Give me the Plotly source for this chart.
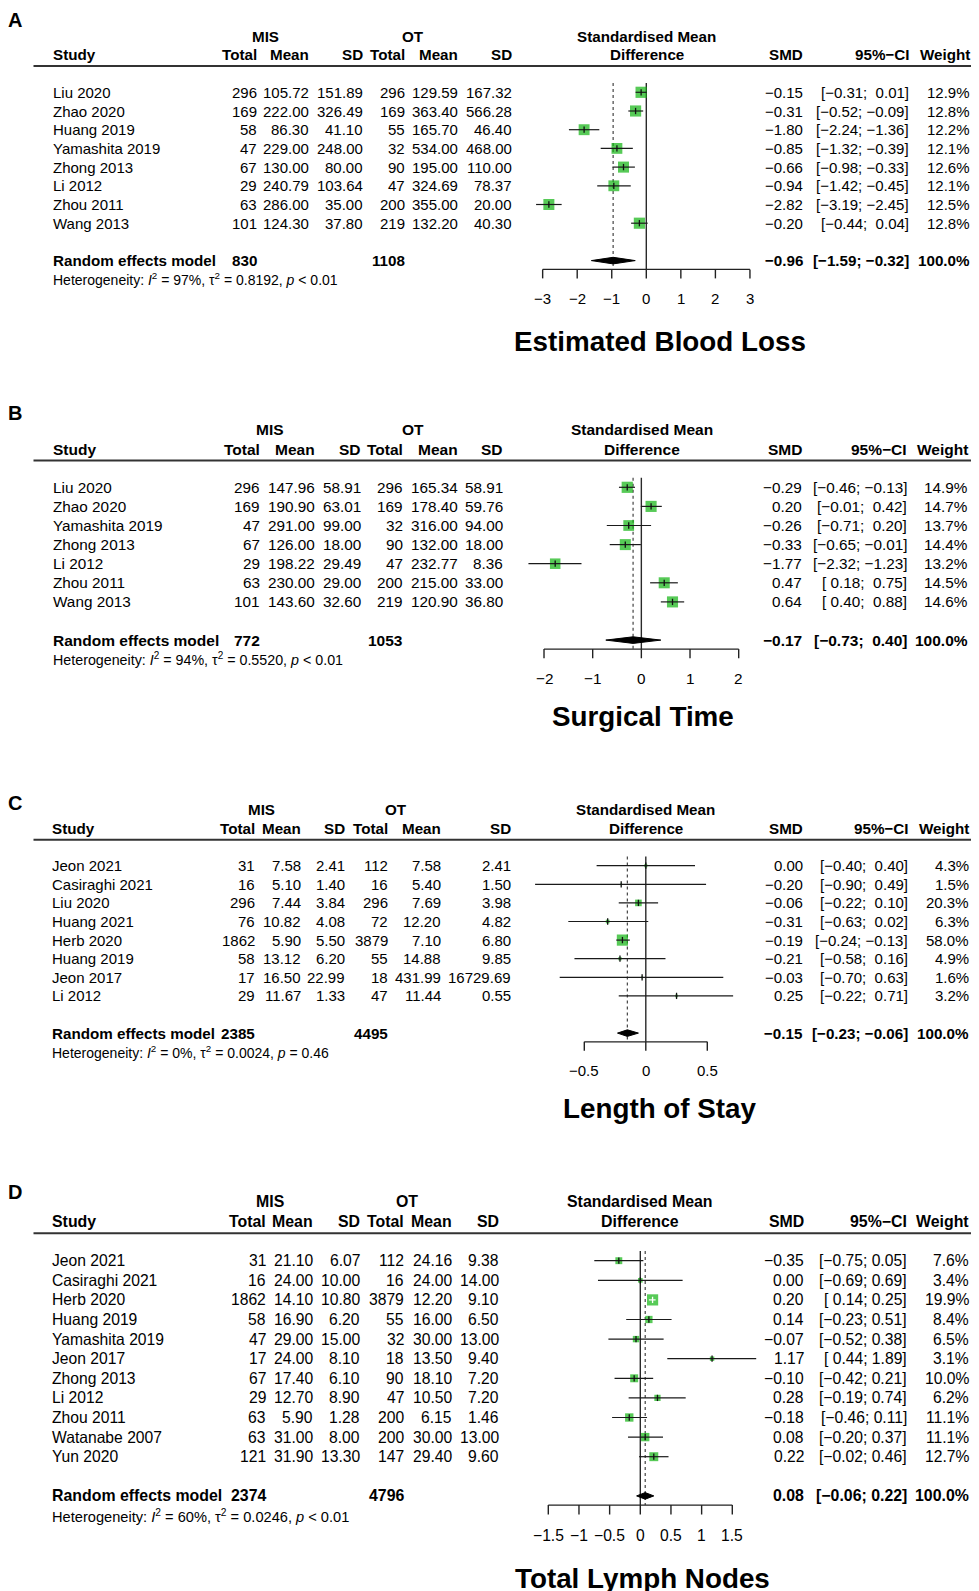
import plotly.graph_objects as go
import math

W, H = 979, 1591          # target page size
OFF = 8                   # default body margin of the html page
FW, FH = W - OFF, H - OFF  # figure size
FONT = "Liberation Sans, Arial, Helvetica, sans-serif"
GREEN = "#10b410"

# ---------------- DATA ----------------
# Panel A - Estimated Blood Loss
a_title = "Estimated Blood Loss"
a_study = ["Liu 2020", "Zhao 2020", "Huang 2019", "Yamashita 2019", "Zhong 2013", "Li 2012", "Zhou 2011", "Wang 2013"]
a_mis_n = [296, 169, 58, 47, 67, 29, 63, 101]
a_mis_mean = [105.72, 222.00, 86.30, 229.00, 130.00, 240.79, 286.00, 124.30]
a_mis_sd = [151.89, 326.49, 41.10, 248.00, 80.00, 103.64, 35.00, 37.80]
a_ot_n = [296, 169, 55, 32, 90, 47, 200, 219]
a_ot_mean = [129.59, 363.40, 165.70, 534.00, 195.00, 324.69, 355.00, 132.20]
a_ot_sd = [167.32, 566.28, 46.40, 468.00, 110.00, 78.37, 20.00, 40.30]
a_smd = [-0.15, -0.31, -1.80, -0.85, -0.66, -0.94, -2.82, -0.20]
a_lo = [-0.31, -0.52, -2.24, -1.32, -0.98, -1.42, -3.19, -0.44]
a_hi = [0.01, -0.09, -1.36, -0.39, -0.33, -0.45, -2.45, 0.04]
a_w = [12.9, 12.8, 12.2, 12.1, 12.6, 12.1, 12.5, 12.8]
a_pool = [-0.96, -1.59, -0.32]
a_tot = [830, 1108]
a_het = ["97%", "0.8192", "&lt; 0.01"]
a_ticks = [-3, -2, -1, 0, 1, 2, 3]

# Panel B - Surgical Time
b_title = "Surgical Time"
b_study = ["Liu 2020", "Zhao 2020", "Yamashita 2019", "Zhong 2013", "Li 2012", "Zhou 2011", "Wang 2013"]
b_mis_n = [296, 169, 47, 67, 29, 63, 101]
b_mis_mean = [147.96, 190.90, 291.00, 126.00, 198.22, 230.00, 143.60]
b_mis_sd = [58.91, 63.01, 99.00, 18.00, 29.49, 29.00, 32.60]
b_ot_n = [296, 169, 32, 90, 47, 200, 219]
b_ot_mean = [165.34, 178.40, 316.00, 132.00, 232.77, 215.00, 120.90]
b_ot_sd = [58.91, 59.76, 94.00, 18.00, 8.36, 33.00, 36.80]
b_smd = [-0.29, 0.20, -0.26, -0.33, -1.77, 0.47, 0.64]
b_lo = [-0.46, -0.01, -0.71, -0.65, -2.32, 0.18, 0.40]
b_hi = [-0.13, 0.42, 0.20, -0.01, -1.23, 0.75, 0.88]
b_w = [14.9, 14.7, 13.7, 14.4, 13.2, 14.5, 14.6]
b_pool = [-0.17, -0.73, 0.40]
b_tot = [772, 1053]
b_het = ["94%", "0.5520", "&lt; 0.01"]
b_ticks = [-2, -1, 0, 1, 2]

# Panel C - Length of Stay
c_title = "Length of Stay"
c_study = ["Jeon 2021", "Casiraghi 2021", "Liu 2020", "Huang 2021", "Herb 2020", "Huang 2019", "Jeon 2017", "Li 2012"]
c_mis_n = [31, 16, 296, 76, 1862, 58, 17, 29]
c_mis_mean = [7.58, 5.10, 7.44, 10.82, 5.90, 13.12, 16.50, 11.67]
c_mis_sd = [2.41, 1.40, 3.84, 4.08, 5.50, 6.20, 22.99, 1.33]
c_ot_n = [112, 16, 296, 72, 3879, 55, 18, 47]
c_ot_mean = [7.58, 5.40, 7.69, 12.20, 7.10, 14.88, 431.99, 11.44]
c_ot_sd = [2.41, 1.50, 3.98, 4.82, 6.80, 9.85, 16729.69, 0.55]
c_smd = [0.00, -0.20, -0.06, -0.31, -0.19, -0.21, -0.03, 0.25]
c_lo = [-0.40, -0.90, -0.22, -0.63, -0.24, -0.58, -0.70, -0.22]
c_hi = [0.40, 0.49, 0.10, 0.02, -0.13, 0.16, 0.63, 0.71]
c_w = [4.3, 1.5, 20.3, 6.3, 58.0, 4.9, 1.6, 3.2]
c_pool = [-0.15, -0.23, -0.06]
c_tot = [2385, 4495]
c_het = ["0%", "0.0024", "= 0.46"]
c_ticks = [-0.5, 0, 0.5]

# Panel D - Total Lymph Nodes
d_title = "Total Lymph Nodes"
d_study = ["Jeon 2021", "Casiraghi 2021", "Herb 2020", "Huang 2019", "Yamashita 2019", "Jeon 2017",
           "Zhong 2013", "Li 2012", "Zhou 2011", "Watanabe 2007", "Yun 2020"]
d_mis_n = [31, 16, 1862, 58, 47, 17, 67, 29, 63, 63, 121]
d_mis_mean = [21.10, 24.00, 14.10, 16.90, 29.00, 24.00, 17.40, 12.70, 5.90, 31.00, 31.90]
d_mis_sd = [6.07, 10.00, 10.80, 6.20, 15.00, 8.10, 6.10, 8.90, 1.28, 8.00, 13.30]
d_ot_n = [112, 16, 3879, 55, 32, 18, 90, 47, 200, 200, 147]
d_ot_mean = [24.16, 24.00, 12.20, 16.00, 30.00, 13.50, 18.10, 10.50, 6.15, 30.00, 29.40]
d_ot_sd = [9.38, 14.00, 9.10, 6.50, 13.00, 9.40, 7.20, 7.20, 1.46, 13.00, 9.60]
d_smd = [-0.35, 0.00, 0.20, 0.14, -0.07, 1.17, -0.10, 0.28, -0.18, 0.08, 0.22]
d_lo = [-0.75, -0.69, 0.14, -0.23, -0.52, 0.44, -0.42, -0.19, -0.46, -0.20, -0.02]
d_hi = [0.05, 0.69, 0.25, 0.51, 0.38, 1.89, 0.21, 0.74, 0.11, 0.37, 0.46]
d_w = [7.6, 3.4, 19.9, 8.4, 6.5, 3.1, 10.0, 6.2, 11.1, 11.1, 12.7]
d_pool = [0.08, -0.06, 0.22]
d_tot = [2374, 4796]
d_het = ["60%", "0.0246", "&lt; 0.01"]
d_ticks = [-1.5, -1, -0.5, 0, 0.5, 1, 1.5]

panels = [
    dict(title=a_title, study=a_study, mis_n=a_mis_n, mis_mean=a_mis_mean, mis_sd=a_mis_sd,
         ot_n=a_ot_n, ot_mean=a_ot_mean, ot_sd=a_ot_sd, smd=a_smd, lo=a_lo, hi=a_hi, w=a_w,
         pool=a_pool, tot=a_tot, het=a_het, ticks=a_ticks),
    dict(title=b_title, study=b_study, mis_n=b_mis_n, mis_mean=b_mis_mean, mis_sd=b_mis_sd,
         ot_n=b_ot_n, ot_mean=b_ot_mean, ot_sd=b_ot_sd, smd=b_smd, lo=b_lo, hi=b_hi, w=b_w,
         pool=b_pool, tot=b_tot, het=b_het, ticks=b_ticks),
    dict(title=c_title, study=c_study, mis_n=c_mis_n, mis_mean=c_mis_mean, mis_sd=c_mis_sd,
         ot_n=c_ot_n, ot_mean=c_ot_mean, ot_sd=c_ot_sd, smd=c_smd, lo=c_lo, hi=c_hi, w=c_w,
         pool=c_pool, tot=c_tot, het=c_het, ticks=c_ticks),
    dict(title=d_title, study=d_study, mis_n=d_mis_n, mis_mean=d_mis_mean, mis_sd=d_mis_sd,
         ot_n=d_ot_n, ot_mean=d_ot_mean, ot_sd=d_ot_sd, smd=d_smd, lo=d_lo, hi=d_hi, w=d_w,
         pool=d_pool, tot=d_tot, het=d_het, ticks=d_ticks),
]

# ---------------- LAYOUT GEOMETRY (page pixels) ----------------
geo = [
    dict(letter="A", top=OFF, bot=385, first=92.3, sp=18.7, s=1.0, zero=646.3, unit=34.55,
         xs=53.3, cols=[257, 309, 363, 405, 458, 512], rc=[803.3, 909.3, 970],
         mis=265, ot=413, smdc=646.7, title_xy=(659.7, 341.7), letter_y=20),
    dict(letter="B", top=385, bot=765, first=487.3, sp=19.1, s=1.02, zero=641.35, unit=48.67,
         xs=53.3, cols=[260, 315, 360.7, 403, 457.7, 503.3], rc=[801.7, 907.3, 968.3],
         mis=270, ot=412.7, smdc=641.7, title_xy=(642.5, 716.7), letter_y=413),
    dict(letter="C", top=765, bot=1150, first=865.7, sp=18.6, s=1.0, zero=645.8, unit=123.0,
         xs=51.7, cols=[255, 300.7, 345, 387.7, 440.7, 510.7], rc=[802.7, 908.3, 969],
         mis=261.7, ot=396, smdc=645.7, title_xy=(660, 1108.3), letter_y=803),
    dict(letter="D", top=1150, bot=H, first=1260.7, sp=19.6, s=1.045, zero=640.3, unit=61.33,
         xs=52.3, cols=[265.7, 313.3, 360, 404.3, 452.3, 499], rc=[804.3, 906.7, 969],
         mis=270, ot=407.3, smdc=640, title_xy=(642.5, 1578), letter_y=1192),
]
XD0, XD1 = 500, 800  # forest x-axis domain in page px


def px2x(x):
    return (x - OFF) / FW


def px2y(y):
    return 1 - (y - OFF) / FH


def mns(s):
    return s.replace("-", "\u2212")


def f2(v):
    return mns(f"{v:.2f}")


fig = go.Figure()
ann = []
shapes = []
layout_axes = {}


def txt(text, x, y, xref="paper", yref="paper", anchor="left", size=15, bold=False):
    ann.append(dict(text=f"<b>{text}</b>" if bold else text, x=x, y=y, xref=xref, yref=yref,
                    xanchor=anchor, yanchor="middle", showarrow=False, borderpad=0, borderwidth=0,
                    font=dict(family=FONT, size=size, color="black")))


for k, (p, g) in enumerate(zip(panels, geo), start=1):
    xa = "x" if k == 1 else f"x{k}"
    ya = "y" if k == 1 else f"y{k}"
    s = g["s"]
    n = len(p["study"])
    fs = 15.0 * s
    fb = 15.2 * s
    fh = 14.0 * s
    first, sp = g["first"], g["sp"]

    # axes
    layout_axes["xaxis" if k == 1 else f"xaxis{k}"] = dict(
        domain=[px2x(XD0), px2x(XD1)],
        range=[(XD0 - g["zero"]) / g["unit"], (XD1 - g["zero"]) / g["unit"]],
        visible=False, anchor=ya, fixedrange=True)
    layout_axes["yaxis" if k == 1 else f"yaxis{k}"] = dict(
        domain=[px2y(g["bot"]), px2y(g["top"])],
        range=[(g["bot"] - first) / sp, (g["top"] - first) / sp],
        visible=False, anchor=xa, fixedrange=True)

    rows = list(range(n))
    pool_row = n + 1
    het_row = n + 2
    axis_row = n + 1.47
    tick_row = n + 3
    top_row = -0.5

    est, plo, phi = p["pool"]

    # reference lines
    fig.add_trace(go.Scatter(x=[est, est], y=[top_row, axis_row], mode="lines",
                             line=dict(color="#444444", width=1.2, dash="dot"),
                             xaxis=xa, yaxis=ya, hoverinfo="skip"))
    fig.add_trace(go.Scatter(x=[0, 0], y=[top_row, axis_row], mode="lines",
                             line=dict(color="#2a2a2a", width=1.4),
                             xaxis=xa, yaxis=ya, hoverinfo="skip"))

    # squares (area proportional to weight)
    wmax = max(p["w"])
    sizes = [11.2 * math.sqrt(w / wmax) for w in p["w"]]
    fig.add_trace(go.Scatter(x=p["smd"], y=rows, mode="markers",
                             marker=dict(symbol="square", size=sizes, color=GREEN, line=dict(width=0)),
                             xaxis=xa, yaxis=ya, hoverinfo="skip"))

    # CI lines (white when the CI fits inside the square)
    inside = [(h - l) * g["unit"] < sz - 1 for l, h, sz in zip(p["lo"], p["hi"], sizes)]
    for colr, flag in (("#1a1a1a", False), ("white", True)):
        xs_, ys_ = [], []
        for i in rows:
            if inside[i] == flag:
                xs_ += [p["lo"][i], p["hi"][i], None]
                ys_ += [i, i, None]
        if xs_:
            fig.add_trace(go.Scatter(x=xs_, y=ys_, mode="lines", line=dict(color=colr, width=1.2),
                                     xaxis=xa, yaxis=ya, hoverinfo="skip"))
    fig.add_trace(go.Scatter(x=p["smd"], y=rows, mode="markers",
                             marker=dict(symbol="line-ns", size=4.5,
                                         line=dict(width=1.3, color=["white" if f else "#111111" for f in inside])),
                             xaxis=xa, yaxis=ya, hoverinfo="skip"))

    # diamond
    dh = 3.3 / sp
    fig.add_trace(go.Scatter(x=[plo, est, phi, est, plo], y=[pool_row, pool_row - dh, pool_row, pool_row + dh, pool_row],
                             mode="lines", fill="toself", fillcolor="black", line=dict(color="black", width=1),
                             xaxis=xa, yaxis=ya, hoverinfo="skip"))

    # x axis line + ticks
    tl = 9 * s / sp
    tk = p["ticks"]
    fig.add_trace(go.Scatter(x=[tk[0], tk[-1]], y=[axis_row, axis_row], mode="lines",
                             line=dict(color="#222222", width=1.4), xaxis=xa, yaxis=ya, hoverinfo="skip"))
    tx, ty = [], []
    for t in tk:
        tx += [t, t, None]
        ty += [axis_row, axis_row + tl, None]
    fig.add_trace(go.Scatter(x=tx, y=ty, mode="lines", line=dict(color="#222222", width=1.4),
                             xaxis=xa, yaxis=ya, hoverinfo="skip"))
    for t in tk:
        txt(mns(f"{t:g}"), t, tick_row, xref=xa, yref=ya, anchor="center", size=fs)

    # header
    txt(g["letter"], px2x(8), px2y(g["letter_y"]), anchor="left", size=20, bold=True)
    txt("MIS", px2x(g["mis"]), -3, yref=ya, anchor="center", size=fb, bold=True)
    txt("OT", px2x(g["ot"]), -3, yref=ya, anchor="center", size=fb, bold=True)
    txt("Standardised Mean", px2x(g["smdc"]), -3, yref=ya, anchor="center", size=fb, bold=True)
    txt("Difference", px2x(g["smdc"]), -2, yref=ya, anchor="center", size=fb, bold=True)
    txt("Study", px2x(g["xs"]), -2, yref=ya, anchor="left", size=fb, bold=True)
    for lab, cx in zip(["Total", "Mean", "SD", "Total", "Mean", "SD"], g["cols"]):
        txt(lab, px2x(cx), -2, yref=ya, anchor="right", size=fb, bold=True)
    for lab, cx in zip(["SMD", "95%\u2212CI", "Weight"], g["rc"]):
        txt(lab, px2x(cx), -2, yref=ya, anchor="right", size=fb, bold=True)
    shapes.append(dict(type="line", xref="paper", yref=ya, x0=px2x(33.5), x1=1, y0=-1.4, y1=-1.4,
                       line=dict(color="#333333", width=2)))

    # CI strings with R-style padding
    lo_s = [f"{v:.2f}" for v in p["lo"] + [plo]]
    hi_s = [f"{v:.2f}" for v in p["hi"] + [phi]]
    wl = max(len(v) for v in lo_s)
    wh = max(len(v) for v in hi_s)
    ci_s = [mns("[" + "\u00a0" * (wl - len(a)) + a + "; " + "\u00a0" * (wh - len(b)) + b + "]")
            for a, b in zip(lo_s, hi_s)]

    # study rows
    for i in rows:
        txt(p["study"][i], px2x(g["xs"]), i, yref=ya, anchor="left", size=fs)
        vals = [str(p["mis_n"][i]), f2(p["mis_mean"][i]), f2(p["mis_sd"][i]),
                str(p["ot_n"][i]), f2(p["ot_mean"][i]), f2(p["ot_sd"][i])]
        for v, cx in zip(vals, g["cols"]):
            txt(v, px2x(cx), i, yref=ya, anchor="right", size=fs)
        for v, cx in zip([f2(p["smd"][i]), ci_s[i], f"{p['w'][i]:.1f}%"], g["rc"]):
            txt(v, px2x(cx), i, yref=ya, anchor="right", size=fs)

    # pooled row
    txt("Random effects model", px2x(g["xs"]), pool_row, yref=ya, anchor="left", size=fb, bold=True)
    txt(str(p["tot"][0]), px2x(g["cols"][0]), pool_row, yref=ya, anchor="right", size=fb, bold=True)
    txt(str(p["tot"][1]), px2x(g["cols"][3]), pool_row, yref=ya, anchor="right", size=fb, bold=True)
    for v, cx in zip([f2(est), ci_s[-1], "100.0%"], g["rc"]):
        txt(v, px2x(cx), pool_row, yref=ya, anchor="right", size=fb, bold=True)

    # heterogeneity
    i2, tau2, pv = p["het"]
    txt(f"Heterogeneity: <i>I</i><sup>2</sup> = {i2}, \u03c4<sup>2</sup> = {tau2}, <i>p</i> {pv}",
        px2x(g["xs"]), het_row, yref=ya, anchor="left", size=fh)

    # title
    tx_, ty_ = g["title_xy"]
    txt(p["title"], px2x(tx_), px2y(ty_), anchor="center", size=27.8, bold=True)

fig.update_layout(width=FW, height=FH, margin=dict(l=0, r=0, t=0, b=0),
                  paper_bgcolor="white", plot_bgcolor="white", showlegend=False,
                  annotations=ann, shapes=shapes, **layout_axes)

fig.write_html("out.html")
